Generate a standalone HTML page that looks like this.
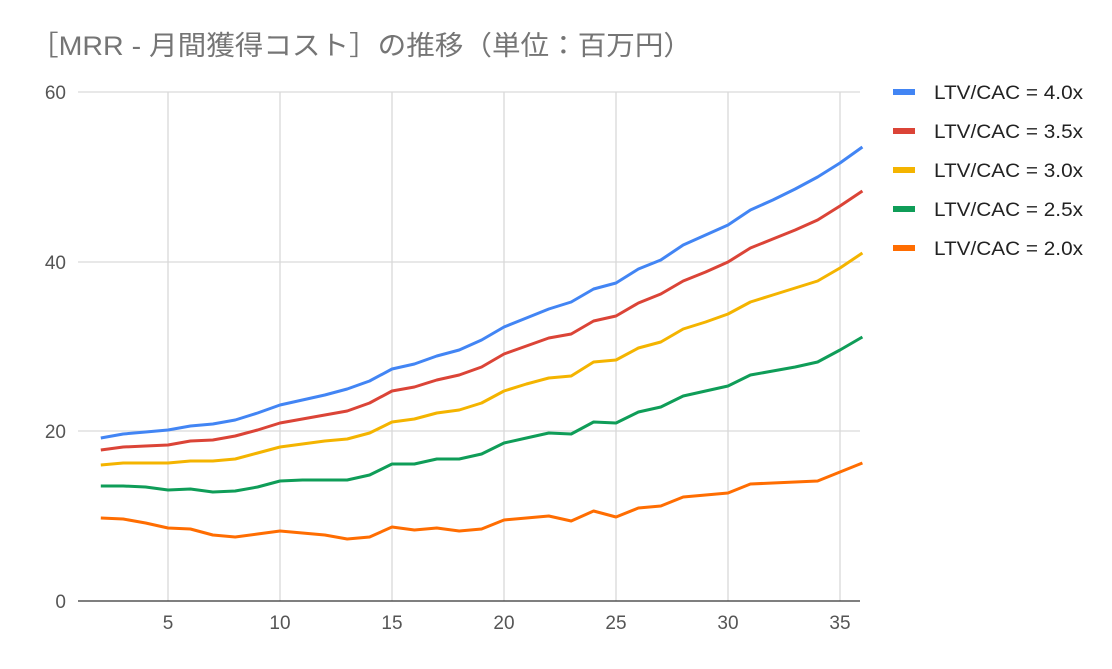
<!DOCTYPE html>
<html><head><meta charset="utf-8"><style>
html,body{margin:0;padding:0;background:#fff;}
svg text{font-family:"Liberation Sans","Noto Sans CJK JP",sans-serif;}
</style></head><body>
<svg id="c" width="1112" height="664" xmlns="http://www.w3.org/2000/svg">
<text x="30" y="55" font-size="27" fill="#757575" textLength="662" lengthAdjust="spacingAndGlyphs">［MRR - 月間獲得コスト］の推移（単位：百万円）</text>
<g stroke="#d9d9d9" stroke-width="1.3">
<line x1="78" y1="92" x2="860" y2="92"/>
<line x1="78" y1="262" x2="860" y2="262"/>
<line x1="78" y1="431" x2="860" y2="431"/>
<line x1="168" y1="92" x2="168" y2="601"/>
<line x1="280" y1="92" x2="280" y2="601"/>
<line x1="392" y1="92" x2="392" y2="601"/>
<line x1="504" y1="92" x2="504" y2="601"/>
<line x1="616" y1="92" x2="616" y2="601"/>
<line x1="728" y1="92" x2="728" y2="601"/>
<line x1="840" y1="92" x2="840" y2="601"/>
</g>
<line x1="78" y1="601" x2="860" y2="601" stroke="#333" stroke-width="1.3"/>
<g font-size="19" fill="#555" text-anchor="end">
<text x="66" y="99">60</text><text x="66" y="269">40</text><text x="66" y="438">20</text><text x="66" y="608">0</text>
</g>
<g font-size="19" fill="#555" text-anchor="middle">
<text x="168" y="629">5</text><text x="280" y="629">10</text><text x="392" y="629">15</text><text x="504" y="629">20</text><text x="616" y="629">25</text><text x="728" y="629">30</text><text x="840" y="629">35</text>
</g>
<g id="lines" fill="none" stroke-width="3" stroke-linejoin="round"></g>
<g font-size="19" fill="#222">
<rect x="893" y="89" width="22" height="6" fill="#4285f4"/><text x="934" y="99" textLength="149" lengthAdjust="spacingAndGlyphs">LTV/CAC = 4.0x</text>
<rect x="893" y="128" width="22" height="6" fill="#db4437"/><text x="934" y="138" textLength="149" lengthAdjust="spacingAndGlyphs">LTV/CAC = 3.5x</text>
<rect x="893" y="167" width="22" height="6" fill="#f4b400"/><text x="934" y="177" textLength="149" lengthAdjust="spacingAndGlyphs">LTV/CAC = 3.0x</text>
<rect x="893" y="206" width="22" height="6" fill="#0f9d58"/><text x="934" y="216" textLength="149" lengthAdjust="spacingAndGlyphs">LTV/CAC = 2.5x</text>
<rect x="893" y="245" width="22" height="6" fill="#ff6d01"/><text x="934" y="255" textLength="149" lengthAdjust="spacingAndGlyphs">LTV/CAC = 2.0x</text>
</g>
</svg>
<script>
var d={
"#ff6d01":[518,519,523,528,529,535,537,534,531,533,535,539,537,527,530,528,531,529,520,518,516,521,511,517,508,506,497,495,493,484,483,482,481,472,463],
"#0f9d58":[486,486,487,490,489,492,491,487,481,480,480,480,475,464,464,459,459,454,443,438,433,434,422,423,412,407,396,391,386,375,371,367,362,350,337],
"#f4b400":[465,463,463,463,461,461,459,453,447,444,441,439,433,422,419,413,410,403,391,384,378,376,362,360,348,342,329,322,314,302,295,288,281,268,253],
"#db4437":[450,447,446,445,441,440,436,430,423,419,415,411,403,391,387,380,375,367,354,346,338,334,321,316,303,294,281,272,262,248,239,230,220,206,191],
"#4285f4":[438,434,432,430,426,424,420,413,405,400,395,389,381,369,364,356,350,340,327,318,309,302,289,283,269,260,245,235,225,210,200,189,177,163,147]};
var g=document.getElementById('lines');
for(var c in d){var p=d[c].map(function(y,i){return (100.8+i*22.4).toFixed(1)+','+y;}).join(' ');
var e=document.createElementNS('http://www.w3.org/2000/svg','polyline');e.setAttribute('points',p);e.setAttribute('stroke',c);g.appendChild(e);}
</script>
</body></html>
